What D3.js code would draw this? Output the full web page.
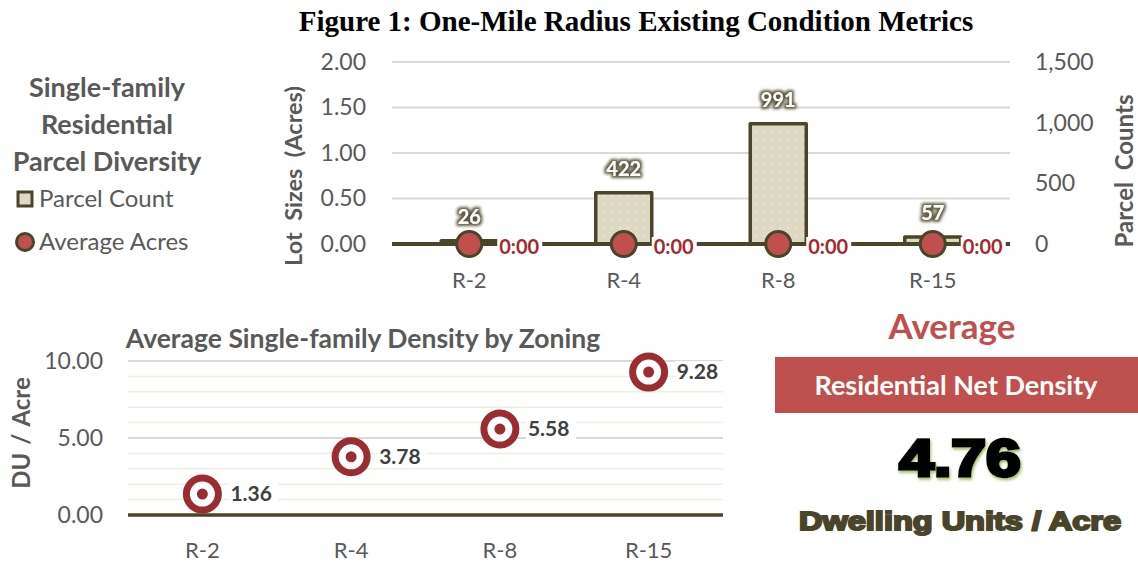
<!DOCTYPE html>
<html>
<head>
<meta charset="utf-8">
<script src="https://cdn.jsdelivr.net/npm/d3@7"></script>
<style>
  body { margin: 0; background: #fff; }
  svg { display: block; }
</style>
</head>
<body>
<svg id="chart" width="1138" height="564"></svg>
<script>
const zones = ["R-2", "R-4", "R-8", "R-15"];
const parcelCounts = [26, 422, 991, 57];
const avgAcres = [0, 0, 0, 0];
const avgAcreLabels = ["0:00", "0:00", "0:00", "0:00"];
const lotTicks = [0, 0.5, 1, 1.5, 2];
const countTicks = [0, 500, 1000, 1500];
const densities = [1.36, 3.78, 5.58, 9.28];
const densityTicks = [0, 5, 10];
const densityMinor = [1, 2, 3, 4, 6, 7, 8, 9];
const netDensity = 4.76;

const FONT = "Lato, 'Open Sans', sans-serif";
const BLACKFONT = "'Liberation Sans', Arial, sans-serif";
const GREY = "#595959";
const OLIVE = "#4a4529";
const RED = "#c0504d";
const DARKRED = "#9b2d30";

const svg = d3.select("#chart");
const defs = svg.append("defs");

// dotted fill for the bars
const pat = defs.append("pattern")
  .attr("id", "dots")
  .attr("width", 8).attr("height", 8)
  .attr("patternUnits", "userSpaceOnUse");
pat.append("rect").attr("width", 8).attr("height", 8).attr("fill", "#ddd9c3");
pat.append("circle").attr("cx", 4).attr("cy", 4).attr("r", 0.8).attr("fill", "#f4f2ea");

// dark glow behind the bar value labels
const glow = defs.append("filter").attr("id", "glow")
  .attr("x", "-30%").attr("y", "-30%").attr("width", "160%").attr("height", "160%");
glow.append("feMorphology").attr("in", "SourceAlpha").attr("operator", "dilate").attr("radius", 2).attr("result", "d");
glow.append("feGaussianBlur").attr("in", "d").attr("stdDeviation", 1.8).attr("result", "b");
glow.append("feFlood").attr("flood-color", "#5f5b3e");
glow.append("feComposite").attr("in2", "b").attr("operator", "in").attr("result", "s");
const gm = glow.append("feMerge");
gm.append("feMergeNode").attr("in", "s");
gm.append("feMergeNode").attr("in", "SourceGraphic");

// green glow behind the big number
const glow2 = defs.append("filter").attr("id", "glow2")
  .attr("x", "-20%").attr("y", "-20%").attr("width", "140%").attr("height", "140%");
glow2.append("feGaussianBlur").attr("in", "SourceAlpha").attr("stdDeviation", 1.5).attr("result", "b");
glow2.append("feOffset").attr("in", "b").attr("dx", 1).attr("dy", 1.5).attr("result", "o");
glow2.append("feFlood").attr("flood-color", "#9bbb59");
glow2.append("feComposite").attr("in2", "o").attr("operator", "in").attr("result", "s");
const gm2 = glow2.append("feMerge");
gm2.append("feMergeNode").attr("in", "s");
gm2.append("feMergeNode").attr("in", "SourceGraphic");

// title
svg.append("text")
  .attr("x", 636).attr("y", 31)
  .attr("text-anchor", "middle")
  .attr("font-family", "'Liberation Serif', 'Times New Roman', serif")
  .attr("font-weight", "bold")
  .attr("font-size", 29)
  .attr("fill", "#000")
  .text("Figure 1: One-Mile Radius Existing Condition Metrics");

// ---------- top chart ----------
const box1 = { left: 392, right: 1010, top: 62, bottom: 244 };
const x1 = d3.scaleBand().domain(zones).range([box1.left, box1.right]);
const yL = d3.scaleLinear().domain([0, 2]).range([box1.bottom, box1.top]);
const yR = d3.scaleLinear().domain([0, 1500]).range([box1.bottom, box1.top]);

const g1 = svg.append("g");

g1.selectAll(".grid1")
  .data(lotTicks.filter(d => d > 0))
  .enter().append("line")
  .attr("x1", box1.left).attr("x2", box1.right)
  .attr("y1", d => yL(d)).attr("y2", d => yL(d))
  .attr("stroke", "#d9d9d9").attr("stroke-width", 2);

const axL = g1.append("g")
  .attr("transform", `translate(${box1.left - 26},0)`)
  .call(d3.axisLeft(yL).tickValues(lotTicks).tickFormat(d3.format(".2f")).tickSize(0).tickPadding(0));
const axR = g1.append("g")
  .attr("transform", `translate(${box1.right + 25},0)`)
  .call(d3.axisRight(yR).tickValues(countTicks).tickFormat(d3.format(",")).tickSize(0).tickPadding(0));
const axB1 = g1.append("g")
  .attr("transform", `translate(0,${box1.bottom + 36})`)
  .call(d3.axisBottom(x1).tickSize(0).tickPadding(0));
[axL, axR, axB1].forEach(a => {
  a.select(".domain").remove();
  a.selectAll("text").attr("font-family", FONT).attr("font-size", 23).attr("fill", GREY);
});
axB1.selectAll("text").attr("dy", "0.35em").attr("font-size", 22);

// bars
const barW = 56;
g1.selectAll(".bar")
  .data(zones)
  .enter().append("rect")
  .attr("x", d => x1(d) + x1.bandwidth() / 2 - barW / 2)
  .attr("width", barW)
  .attr("y", (d, i) => yR(parcelCounts[i]))
  .attr("height", (d, i) => box1.bottom - yR(parcelCounts[i]))
  .attr("fill", "url(#dots)")
  .attr("stroke", OLIVE).attr("stroke-width", 3.5)
  .attr("stroke-linejoin", "round");

// average acres line
const line = d3.line()
  .x((d, i) => x1(zones[i]) + x1.bandwidth() / 2)
  .y(d => yL(d));
g1.append("line")
  .attr("x1", box1.left).attr("x2", box1.right)
  .attr("y1", yL(0)).attr("y2", yL(0))
  .attr("stroke", OLIVE).attr("stroke-width", 4);
g1.append("path")
  .datum(avgAcres)
  .attr("d", line)
  .attr("fill", "none")
  .attr("stroke", OLIVE).attr("stroke-width", 4);

// 0:00 labels
const acreLab = g1.selectAll(".alab")
  .data(avgAcres)
  .enter().append("g")
  .attr("transform", (d, i) => `translate(${x1(zones[i]) + x1.bandwidth() / 2 + 30},${yL(d) + 3})`);
acreLab.append("rect")
  .attr("x", -2).attr("y", -10).attr("width", 45).attr("height", 20).attr("fill", "#fff");
acreLab.append("text")
  .attr("dy", "0.35em")
  .attr("font-family", FONT).attr("font-weight", "bold").attr("font-size", 20)
  .attr("fill", "#a52a2e")
  .text((d, i) => avgAcreLabels[i]);

// markers
g1.selectAll(".mk")
  .data(avgAcres)
  .enter().append("circle")
  .attr("cx", (d, i) => x1(zones[i]) + x1.bandwidth() / 2)
  .attr("cy", d => yL(d))
  .attr("r", 12.5)
  .attr("fill", RED)
  .attr("stroke", OLIVE).attr("stroke-width", 3);

// bar value labels
g1.selectAll(".blab")
  .data(parcelCounts)
  .enter().append("text")
  .attr("x", (d, i) => x1(zones[i]) + x1.bandwidth() / 2)
  .attr("y", d => yR(d) - 17)
  .attr("text-anchor", "middle")
  .attr("font-family", FONT).attr("font-weight", "bold").attr("font-size", 20)
  .attr("fill", "#fff")
  .attr("filter", "url(#glow)")
  .text(d => d);

// axis titles
svg.append("text")
  .attr("transform", "translate(302,176) rotate(-90)")
  .attr("text-anchor", "middle")
  .attr("font-family", FONT).attr("font-weight", "bold").attr("font-size", 23.5)
  .attr("fill", GREY)
  .attr("xml:space", "preserve")
  .text("Lot  Sizes  (Acres)");
svg.append("text")
  .attr("transform", "translate(1133,171) rotate(-90)")
  .attr("text-anchor", "middle")
  .attr("font-family", FONT).attr("font-weight", "bold").attr("font-size", 24)
  .attr("fill", GREY)
  .attr("xml:space", "preserve")
  .text("Parcel  Counts");

// legend
const legTitle = ["Single-family", "Residential", "Parcel Diversity"];
svg.selectAll(".lt")
  .data(legTitle)
  .enter().append("text")
  .attr("x", 107).attr("y", (d, i) => 97 + i * 37)
  .attr("text-anchor", "middle")
  .attr("font-family", FONT).attr("font-weight", "bold").attr("font-size", 27)
  .attr("fill", GREY)
  .text(d => d);
svg.append("rect")
  .attr("x", 18).attr("y", 192).attr("width", 14).attr("height", 14)
  .attr("fill", "#ddd9c3").attr("stroke", OLIVE).attr("stroke-width", 3);
svg.append("text")
  .attr("x", 39).attr("y", 199).attr("dy", "0.35em")
  .attr("font-family", FONT).attr("font-size", 24).attr("fill", GREY)
  .text("Parcel Count");
svg.append("circle")
  .attr("cx", 25).attr("cy", 242).attr("r", 8.5)
  .attr("fill", RED).attr("stroke", OLIVE).attr("stroke-width", 3);
svg.append("text")
  .attr("x", 39).attr("y", 242).attr("dy", "0.35em")
  .attr("font-family", FONT).attr("font-size", 24).attr("fill", GREY)
  .text("Average Acres");

// ---------- bottom chart ----------
const box2 = { left: 128, right: 723, top: 361, bottom: 515 };
const x2 = d3.scaleBand().domain(zones).range([box2.left, box2.right]);
const y2 = d3.scaleLinear().domain([0, 10]).range([box2.bottom, box2.top]);
const g2 = svg.append("g");

g2.selectAll(".minor")
  .data(densityMinor)
  .enter().append("line")
  .attr("x1", box2.left).attr("x2", box2.right)
  .attr("y1", d => y2(d)).attr("y2", d => y2(d))
  .attr("stroke", "#ebf1de").attr("stroke-width", 1.5);
g2.selectAll(".major")
  .data(densityTicks.filter(d => d > 0))
  .enter().append("line")
  .attr("x1", box2.left).attr("x2", box2.right)
  .attr("y1", d => y2(d)).attr("y2", d => y2(d))
  .attr("stroke", "#d9d9d9").attr("stroke-width", 2);
g2.append("line")
  .attr("x1", box2.left).attr("x2", box2.right)
  .attr("y1", y2(0)).attr("y2", y2(0))
  .attr("stroke", OLIVE).attr("stroke-width", 3.5);

const axL2 = g2.append("g")
  .attr("transform", `translate(${box2.left - 25},0)`)
  .call(d3.axisLeft(y2).tickValues(densityTicks).tickFormat(d3.format(".2f")).tickSize(0).tickPadding(0));
const axB2 = g2.append("g")
  .attr("transform", `translate(0,${box2.bottom + 35})`)
  .call(d3.axisBottom(x2).tickSize(0).tickPadding(0));
[axL2, axB2].forEach(a => {
  a.select(".domain").remove();
  a.selectAll("text").attr("font-family", FONT).attr("font-size", 23).attr("fill", GREY);
});
axB2.selectAll("text").attr("dy", "0.35em").attr("font-size", 22);

// value labels
const dLab = g2.selectAll(".dlab")
  .data(densities)
  .enter().append("g")
  .attr("transform", (d, i) => `translate(${x2(zones[i]) + x2.bandwidth() / 2 + 28},${y2(d)})`);
dLab.append("rect")
  .attr("x", -2).attr("y", -11).attr("width", 50).attr("height", 22).attr("fill", "#fff");
dLab.append("text")
  .attr("dy", "0.35em")
  .attr("font-family", FONT).attr("font-weight", "bold").attr("font-size", 21)
  .attr("fill", "#404040")
  .text(d => d3.format(".2f")(d));

// target markers
const tgt = g2.selectAll(".tgt")
  .data(densities)
  .enter().append("g")
  .attr("transform", (d, i) => `translate(${x2(zones[i]) + x2.bandwidth() / 2},${y2(d)})`);
tgt.append("circle").attr("r", 16).attr("fill", "#fff").attr("stroke", DARKRED).attr("stroke-width", 7);
tgt.append("circle").attr("r", 5.5).attr("fill", DARKRED);

svg.append("text")
  .attr("x", 363).attr("y", 339).attr("dy", "0.35em")
  .attr("text-anchor", "middle")
  .attr("font-family", FONT).attr("font-weight", "bold").attr("font-size", 26.5)
  .attr("fill", GREY)
  .text("Average Single-family Density by Zoning");
svg.append("text")
  .attr("transform", "translate(30,433) rotate(-90)")
  .attr("text-anchor", "middle")
  .attr("font-family", FONT).attr("font-weight", "bold").attr("font-size", 24)
  .attr("word-spacing", 2)
  .attr("fill", GREY)
  .text("DU / Acre");

// ---------- right panel ----------
svg.append("text")
  .attr("x", 952).attr("y", 327).attr("dy", "0.35em")
  .attr("text-anchor", "middle")
  .attr("font-family", FONT).attr("font-weight", "bold").attr("font-size", 35)
  .attr("fill", RED)
  .text("Average");
svg.append("rect")
  .attr("x", 775).attr("y", 357).attr("width", 363).attr("height", 56)
  .attr("fill", RED);
svg.append("text")
  .attr("x", 956).attr("y", 386).attr("dy", "0.35em")
  .attr("text-anchor", "middle")
  .attr("font-family", FONT).attr("font-weight", "bold").attr("font-size", 27)
  .attr("fill", "#fff")
  .text("Residential Net Density");
svg.append("text")
  .attr("transform", "translate(960,458) scale(1.2,1)")
  .attr("dy", "0.35em")
  .attr("text-anchor", "middle")
  .attr("font-family", BLACKFONT).attr("font-weight", "bold").attr("font-size", 52)
  .attr("fill", "#000").attr("stroke", "#000").attr("stroke-width", 3.5)
  .attr("filter", "url(#glow2)")
  .text(d3.format(".2f")(netDensity));
svg.append("text")
  .attr("transform", "translate(960,521) scale(1.25,1)")
  .attr("dy", "0.35em")
  .attr("text-anchor", "middle")
  .attr("font-family", BLACKFONT).attr("font-weight", "bold").attr("font-size", 26)
  .attr("fill", OLIVE).attr("stroke", OLIVE).attr("stroke-width", 2)
  .text("Dwelling Units / Acre");
</script>
</body>
</html>
